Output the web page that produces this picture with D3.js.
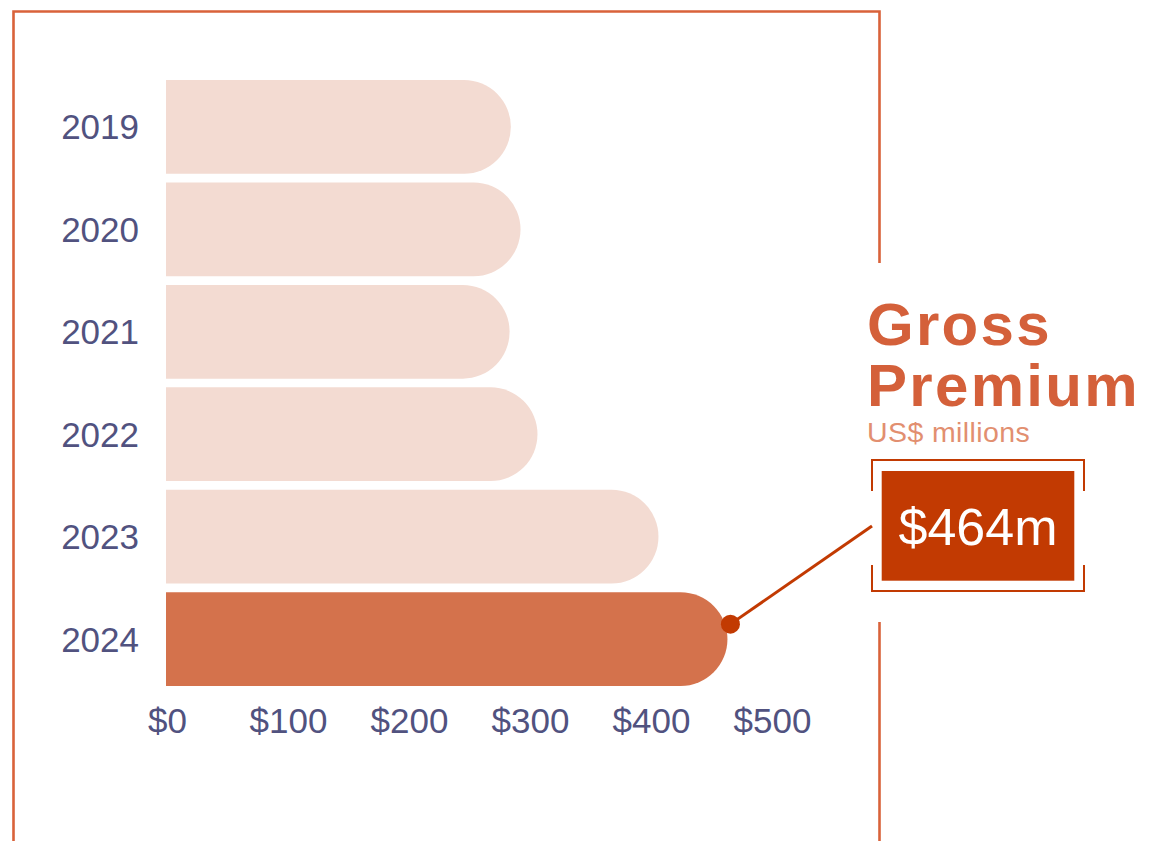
<!DOCTYPE html>
<html>
<head>
<meta charset="utf-8">
<script src="https://cdn.jsdelivr.net/npm/d3@7"></script>
<style>
  html, body { margin: 0; padding: 0; background: #fff; }
  svg { display: block; font-family: "Liberation Sans", Arial, sans-serif; }
</style>
</head>
<body>
<svg id="chart" width="1154" height="841"></svg>
<script>
// Gross premium by year, US$ millions
const years = ["2019", "2020", "2021", "2022", "2023", "2024"];
const premium = [285, 293, 284, 307, 407, 464];
const xTicks = [0, 100, 200, 300, 400, 500];
const highlightYear = "2024";
const titleLines = ["Gross", "Premium"];
const unitLabel = "US$ millions";
const calloutLabel = "$464m";

const colors = {
  frame: "#d9623a",
  bar: "#f3dbd2",
  barHighlight: "#d4724c",
  callout: "#c23a02",
  title: "#d4603a",
  unit: "#e28f70",
  axisText: "#51527f"
};

const svg = d3.select("#chart");

// Scales
const x = d3.scaleLinear().domain([0, 500]).range([166, 771]);
const y = d3.scaleBand().domain(years).range([80, 686]).paddingInner(0.085).paddingOuter(0);
const bh = y.bandwidth();

// Frame around the chart, open on the right where the callout sits
const frame = svg.append("g").attr("fill", "none").attr("stroke", colors.frame).attr("stroke-width", 2.6);
frame.append("path").attr("d", "M13.5,841 L13.5,11.5 L879.5,11.5 L879.5,263");
frame.append("path").attr("d", "M879.5,622 L879.5,841");

// Bars: flat left edge, fully rounded right end
function pill(x0, x1, yTop, h) {
  const r = h / 2;
  const xr = Math.max(x0, x1 - r);
  return `M${x0},${yTop} L${xr},${yTop} A${r},${r} 0 0 1 ${xr},${yTop + h} L${x0},${yTop + h} Z`;
}

const data = years.map((yr, i) => ({ year: yr, value: premium[i] }));

svg.append("g").selectAll("path").data(data).join("path")
  .attr("d", d => pill(x(0), x(d.value), y(d.year), bh))
  .attr("fill", d => d.year === highlightYear ? colors.barHighlight : colors.bar);

// Y axis labels
const yAxis = d3.axisLeft(y).tickSize(0).tickPadding(0);
const yg = svg.append("g").attr("transform", "translate(139,0)").call(yAxis);
yg.select(".domain").remove();
yg.selectAll("text")
  .attr("fill", colors.axisText)
  .attr("font-size", 35)
  .attr("font-family", "Liberation Sans, Arial, sans-serif")
  .attr("dy", "0.36em");

// X axis labels
const xAxis = d3.axisBottom(x).tickValues(xTicks).tickSize(0).tickPadding(0).tickFormat(d => "$" + d);
const xg = svg.append("g").attr("transform", "translate(1,0)").call(xAxis);
xg.select(".domain").remove();
xg.selectAll("text")
  .attr("fill", colors.axisText)
  .attr("font-size", 35)
  .attr("font-family", "Liberation Sans, Arial, sans-serif")
  .attr("y", 733)
  .attr("dy", 0);

// Title block
const title = svg.append("text")
  .attr("fill", colors.title)
  .attr("font-size", 60)
  .attr("font-weight", "bold")
  .attr("letter-spacing", 2.3);
title.selectAll("tspan").data(titleLines).join("tspan")
  .attr("x", 867)
  .attr("y", (d, i) => 345 + i * 60.5)
  .text(d => d);
svg.append("text")
  .attr("x", 867)
  .attr("y", 442)
  .attr("fill", colors.unit)
  .attr("font-size", 28.5)
  .attr("letter-spacing", 0.4)
  .text(unitLabel);

// Callout for the highlighted year
const hl = data.find(d => d.year === highlightYear);
const dotX = x(hl.value) + 3;
const dotY = y(hl.year) + bh / 2 - 15;

const box = { x0: 881.7, y0: 471, x1: 1074.3, y1: 580.7 };
const br = { x0: 872, y0: 460, x1: 1084, y1: 591, tick: 31 };

svg.append("line")
  .attr("x1", dotX).attr("y1", dotY)
  .attr("x2", br.x0).attr("y2", 526)
  .attr("stroke", colors.callout)
  .attr("stroke-width", 3);
svg.append("circle")
  .attr("cx", dotX).attr("cy", dotY).attr("r", 9.5)
  .attr("fill", colors.callout);

// Bracket corners around the value box
const brG = svg.append("g").attr("fill", "none").attr("stroke", colors.callout).attr("stroke-width", 2);
brG.append("path").attr("d",
  `M${br.x0},${br.y0 + br.tick} L${br.x0},${br.y0} L${br.x1},${br.y0} L${br.x1},${br.y0 + br.tick}`);
brG.append("path").attr("d",
  `M${br.x0},${br.y1 - br.tick + 5} L${br.x0},${br.y1} L${br.x1},${br.y1} L${br.x1},${br.y1 - br.tick + 5}`);

svg.append("rect")
  .attr("x", box.x0).attr("y", box.y0)
  .attr("width", box.x1 - box.x0).attr("height", box.y1 - box.y0)
  .attr("fill", colors.callout);
svg.append("text")
  .attr("x", (box.x0 + box.x1) / 2)
  .attr("y", 545)
  .attr("text-anchor", "middle")
  .attr("fill", "#ffffff")
  .attr("font-size", 52)
  .text(calloutLabel);
</script>
</body>
</html>
